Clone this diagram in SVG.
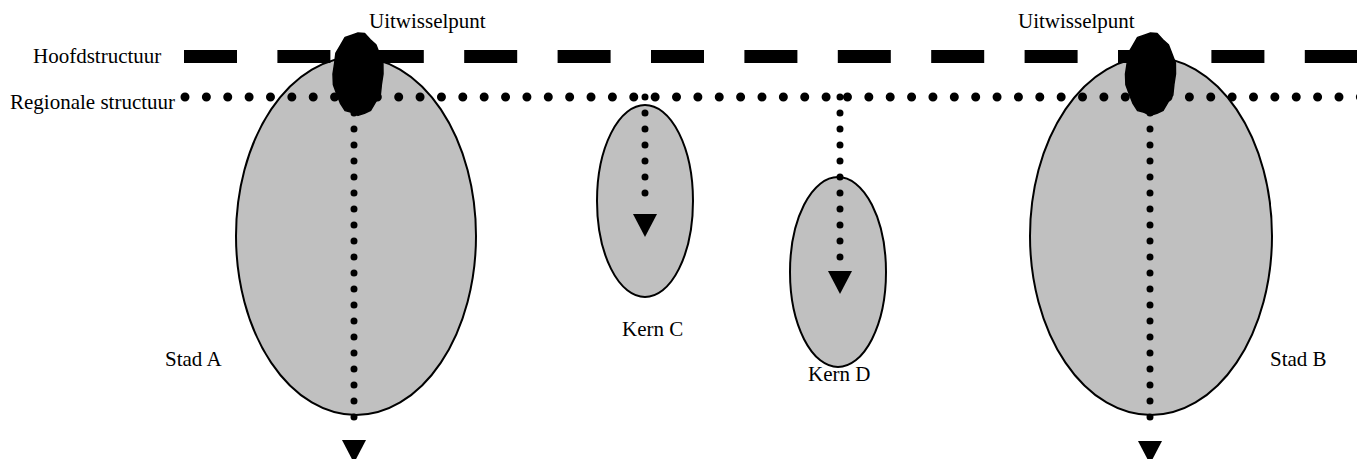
<svg xmlns="http://www.w3.org/2000/svg" xmlns:xlink="http://www.w3.org/1999/xlink" width="1357" height="459" viewBox="0 0 1357 459">
  <style>
    text { font-family: "Liberation Serif", "Times New Roman", serif; font-size: 21px; fill: #000; }
    .area { fill: #c0c0c0; stroke: #000; stroke-width: 2; }
    .main { stroke: #000; stroke-width: 13; stroke-dasharray: 53 40.4; fill: none; }
    .regional { stroke: #000; stroke-width: 9; stroke-linecap: round; stroke-dasharray: 0 21.37; fill: none; }
    .feeder { stroke: #000; stroke-width: 7; stroke-linecap: round; stroke-dasharray: 0 16; fill: none; }
    .blob { fill: #000; stroke: #000; stroke-width: 1.5; stroke-linejoin: round; }
  </style>
  <defs>
    <!-- irregular exchange-point shape, centred on 0,0 -->
    <polygon id="blob" class="blob" points="25,0 23.4,10.3 22.3,21.1 17.3,28.4 12.75,36.2 6.4,39.2 0,41.4 -6.3,38.4 -12.9,36.6 -17.7,29 -21.2,20.1 -24.6,10.8 -25,0 -23.4,-10.3 -22.1,-20.9 -17.5,-28.7 -12.9,-36.6 -6.3,-38.8 0,-41 6.6,-40.4 12.1,-34.4 17.9,-29.3 21.4,-20.3 24.9,-10.9"/>
    <!-- downward arrowhead, apex pointing down, top edge at y=0 -->
    <path id="arrowhead" d="M-12,0 L12,0 L0,23 Z" fill="#000"/>
  </defs>

  <!-- network labels -->
  <g id="legend">
    <text x="33" y="63">Hoofdstructuur</text>
    <text x="10" y="109">Regionale structuur</text>
  </g>

  <!-- areas -->
  <g id="stad-a">
    <ellipse class="area" cx="356" cy="236" rx="120" ry="179"/>
    <text x="165" y="366">Stad A</text>
  </g>
  <g id="kern-c">
    <ellipse class="area" cx="645" cy="201" rx="48" ry="96"/>
    <text x="622" y="336">Kern C</text>
  </g>
  <g id="kern-d">
    <ellipse class="area" cx="838" cy="272" rx="48" ry="95"/>
    <text x="808" y="381">Kern D</text>
  </g>
  <g id="stad-b">
    <ellipse class="area" cx="1151" cy="236" rx="121" ry="179"/>
    <text x="1270" y="366">Stad B</text>
  </g>

  <!-- main and regional networks -->
  <g id="hoofdstructuur">
    <line class="main" x1="184" y1="56.5" x2="1357" y2="56.5"/>
  </g>
  <g id="regionale-structuur">
    <line class="regional" x1="185" y1="97" x2="1362" y2="97"/>
  </g>

  <!-- feeder links from the regional network into the areas -->
  <g id="connectors">
    <line class="feeder" x1="354" y1="97" x2="354" y2="432"/>
    <use xlink:href="#arrowhead" x="354" y="440"/>
    <line class="feeder" x1="645" y1="97" x2="645" y2="209"/>
    <use xlink:href="#arrowhead" x="645" y="214"/>
    <line class="feeder" x1="840" y1="97" x2="840" y2="259"/>
    <use xlink:href="#arrowhead" x="840" y="271"/>
    <line class="feeder" x1="1150" y1="97" x2="1150" y2="432"/>
    <use xlink:href="#arrowhead" x="1150" y="441"/>
  </g>

  <!-- exchange points between the main and regional networks -->
  <g id="uitwisselpunt-a">
    <use xlink:href="#blob" x="358" y="74"/>
    <text x="369" y="28">Uitwisselpunt</text>
  </g>
  <g id="uitwisselpunt-b">
    <use xlink:href="#blob" x="1150.5" y="74"/>
    <text x="1018" y="28">Uitwisselpunt</text>
  </g>
</svg>
